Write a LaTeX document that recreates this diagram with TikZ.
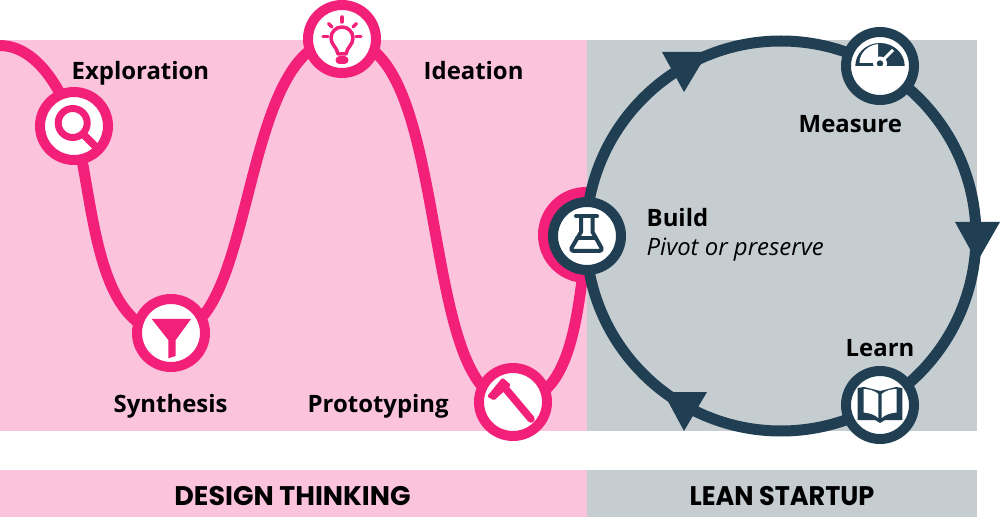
\documentclass[tikz,border=0pt]{standalone}
\usepackage{fontspec}
\setmainfont{Open Sans}
\newfontfamily\bannerfont{Poppins}
\definecolor{softpink}{HTML}{FBC4DC}
\definecolor{hotpink}{HTML}{F3207A}
\definecolor{softgrey}{HTML}{C5CDD1}
\definecolor{navy}{HTML}{203F52}
\tikzset{
  pinkring/.style={circle,draw=hotpink,fill=white,line width=10bp,minimum size=68bp,inner sep=0pt},
  navyring/.style={circle,draw=navy,fill=white,line width=10bp,minimum size=68bp,inner sep=0pt},
  curvepink/.style={draw=hotpink,line width=11bp},
  label/.style={anchor=base west,inner sep=0pt,font=\fontsize{24}{28}\selectfont\bfseries,text=black},
  banner/.style={anchor=base,inner sep=0pt,font=\fontsize{27}{30}\selectfont\bannerfont\bfseries,text=black},
  headtip/.style={fill=navy},
  pinkicon/.style={draw=hotpink,line width=3.5bp,line cap=round,line join=round},
  navyicon/.style={draw=navy,line width=4bp,line cap=round,line join=round}
}
\begin{document}
\begin{tikzpicture}[x=1bp,y=-1bp]
\useasboundingbox (0,0) rectangle (1000,517);
% backgrounds
\fill[softpink] (0,40) rectangle (587,431);
\fill[softpink] (0,470) rectangle (587,517);
\fill[softgrey] (587,470) rectangle (977,517);
% anchor points
\coordinate (pStart) at (0,45.5);
\coordinate (pExplore) at (74,126);
\coordinate (pFunnel) at (171,333);
\coordinate (pIdea) at (342,39);
\coordinate (pHammer) at (513,402);
\coordinate (pBuild) at (587,236);
\coordinate (pMeasure) at (880,66);
\coordinate (pLearn) at (880,405);
% design thinking curve
\draw[curvepink] (pStart) .. controls (35,46) and (60,85) .. (pExplore);
\draw[curvepink] (pExplore) .. controls (94,190) and (92,333) .. (pFunnel);
\draw[curvepink] (pFunnel) .. controls (258,333) and (238,39) .. (pIdea);
\draw[curvepink] (pIdea) .. controls (455,39) and (415,402) .. (pHammer);
\draw[curvepink] (pHammer) .. controls (570,402) and (578,320) .. (pBuild);
\fill[hotpink] (586,235) circle[radius=48];
% lean startup
\fill[softgrey] (587,40) rectangle (977,431);
\draw[navy,line width=11bp] (781,236) circle[radius=195];
\fill[headtip] (662,52) -- (708,52) -- (684,92) -- cycle;
\fill[headtip] (955,222) -- (1000,222) -- (977,262) -- cycle;
\fill[headtip] (663,392) -- (707,392) -- (684,431) -- cycle;
% rings
\node[pinkring] (explore) at (pExplore) {};
\node[pinkring] (funnel) at (pFunnel) {};
\node[pinkring] (idea) at (pIdea) {};
\node[pinkring] (hammer) at (pHammer) {};
\node[navyring] (build) at (pBuild) {};
\node[navyring] (measure) at (pMeasure) {};
\node[navyring] (learn) at (pLearn) {};
% magnifier
\draw[hotpink,line width=7bp] (72.7,123) circle[radius=14.5];
\draw[hotpink,line width=7.5bp] (83,134) -- (98,149);
% bulb
\draw[pinkicon] (342,17) -- (342,22);
\draw[pinkicon] (328.5,23.5) -- (332,27);
\draw[pinkicon] (356.5,23.5) -- (353,27);
\draw[pinkicon] (323,36.7) -- (328,36.7);
\draw[pinkicon] (356,36.7) -- (361,36.7);
\draw[pinkicon] (338,54) .. controls (337,47) and (331,45) .. (331,38) arc[start angle=180,end angle=0,radius=11,y radius=-11] .. controls (353,45) and (347,47) .. (346,54) -- cycle;
\draw[hotpink,line width=8bp,line cap=round] (339.5,60.5) -- (344.5,60.5);
% funnel
\fill[hotpink] (151.7,319) -- (191,319) -- (175.7,340) -- (175.7,356) -- (168.3,358.3) -- (168.3,340) -- cycle;
% hammer
\fill[hotpink,rounded corners=1.5bp] (487,396.5) -- (502.5,377.5) -- (511,385) -- (494,400.5) -- cycle;
\draw[hotpink,line width=7.5bp,line cap=round] (505,388) -- (531,419);
% flask
\draw[navyicon] (576,216) -- (597,216);
\draw[navyicon] (581,216) -- (581,232) -- (571.5,248) .. controls (570.5,250) and (572,251) .. (574,251) -- (599,251) .. controls (601,251) and (602.5,250) .. (601.5,248) -- (592.5,232) -- (592.5,216);
\draw[navyicon] (577,238) -- (596,238);
% gauge
\fill[navy] (855.3,66) arc[start angle=180,end angle=0,x radius=24.7,y radius=-23] -- cycle;
\fill[white] (859.5,63) arc[start angle=180,end angle=95,x radius=20.5,y radius=-19] -- (878,58) -- (873,63) -- cycle;
\draw[white,line width=3bp] (880,63) -- (893,50);
\fill[white] (880,63.5) circle[radius=7];
\fill[navy] (880,63.5) circle[radius=3.2];
\fill[white] (872,66) rectangle (888,71);
% book
\fill[navy] (857.7,388) -- (864,387) -- (880,391) -- (896,387) -- (902.3,388) -- (902.3,420) -- (885,420) -- (880,423) -- (875,420) -- (857.7,420) -- cycle;
\fill[white] (863.5,389) .. controls (870,389) and (875,391) .. (878.3,394) -- (878.3,418) .. controls (875,415) and (870,413) .. (863.5,412.5) -- cycle;
\fill[white] (896.5,389) .. controls (890,389) and (885,391) .. (881.7,394) -- (881.7,418) .. controls (885,415) and (890,413) .. (896.5,412.5) -- cycle;
% labels
\node[label] (tExplore) at (71.5,80) {Exploration};
\node[label] (tIdea) at (423.5,80) {Ideation};
\node[label] (tMeasure) at (798.5,133) {Measure};
\node[label] (tBuild) at (646.5,227) {Build};
\node[anchor=base west,inner sep=0pt,font=\fontsize{24}{28}\selectfont\itshape,text=black] (tPivot) at (646.5,256) {Pivot or preserve};
\node[label] (tLearn) at (845.5,357) {Learn};
\node[label] (tSynth) at (113.5,412) {Synthesis};
\node[label] (tProto) at (307.5,412) {Prototyping};
\node[banner] (bDesign) at (292.5,505) {DESIGN THINKING};
\node[banner] (bLean) at (782,505) {\scalebox{0.95}[1]{LEAN STARTUP}};
\end{tikzpicture}
\end{document}
